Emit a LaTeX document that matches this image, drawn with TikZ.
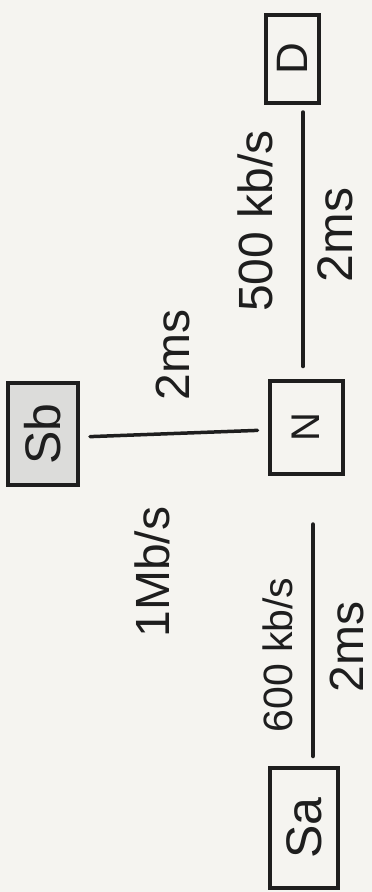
\documentclass[tikz,border=0pt]{standalone}
\usepackage{fontspec}
\setmainfont{Liberation Sans}
\definecolor{bg}{RGB}{245,244,240}
\definecolor{ink}{RGB}{30,30,30}
\definecolor{boxfill}{RGB}{220,220,218}
\newcommand{\fsz}[1]{\fontsize{#1}{#1}\selectfont}
\begin{document}
\begin{tikzpicture}[x=1pt,y=-1pt,
  hostbox/.style={draw=ink, line width=4pt, rotate=90, inner sep=0pt, text=ink},
  link/.style={draw=ink, line width=3.5pt, line cap=round},
  lbl/.style={rotate=90, inner sep=0pt, text=ink}]
\fill[bg] (0,0) rectangle (372,892);
\useasboundingbox (0,0) rectangle (372,892);
% hosts
\node[hostbox, minimum width=88pt, minimum height=53pt, font=\fsz{44}] (D) at (292,59) {D};
\node[hostbox, minimum width=93pt, minimum height=73pt, font=\fsz{40}] (N) at (306,427) {N};
\node[hostbox, fill=boxfill, minimum width=102pt, minimum height=70pt, font=\fsz{50}] (Sb) at (43,434) {Sb};
\node[hostbox, minimum width=120pt, minimum height=68pt, font=\fsz{50}] (Sa) at (304,828) {Sa};
% links
\draw[link, shorten <=12pt, shorten >=7pt] ([xshift=-3pt]N.east) -- ([xshift=11pt]D.west);
\draw[link, shorten <=10pt, shorten >=10pt] ([yshift=-3pt]Sb.south) -- ([yshift=-3pt]N.north);
\draw[link, line width=4.5pt, shorten <=49pt, shorten >=10pt] ([xshift=7pt]N.west) -- ([xshift=9pt]Sa.east);
% labels
\node[lbl, font=\fsz{48}] (l1) at (255,221) {500 kb/s};
\node[lbl, font=\fsz{50}] (l2) at (335,235) {2ms};
\node[lbl, font=\fsz{48}] (l3) at (173,355) {2ms};
\node[lbl, font=\fsz{48}] (l4) at (152,572) {1Mb/s};
\node[lbl, font=\fsz{41}] (l5) at (278,655) {600 kb/s};
\node[lbl, font=\fsz{48}] (l6) at (347,647) {2ms};
\end{tikzpicture}
\end{document}
